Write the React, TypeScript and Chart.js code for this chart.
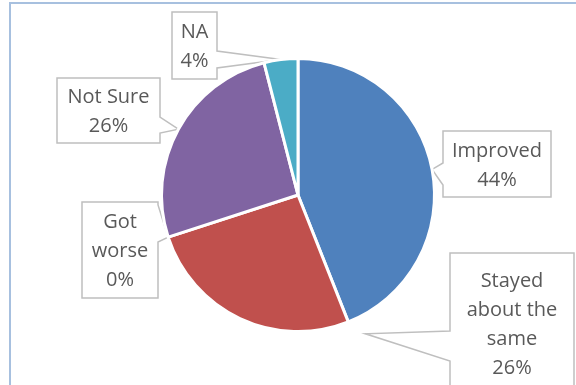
import React, { useEffect, useRef } from "react";
import { Chart, registerables } from "chart.js";

Chart.register(...registerables);

const categories = ["Improved", "Stayed about the same", "Got worse", "Not Sure", "NA"];
const percents = [44, 26, 0, 26, 4];
const sliceColors = ["#4F81BD", "#C0504D", "#9BBB59", "#8064A2", "#4BACC6"];
// label text lines for each category (wrapped as in the reference)
const labelLines = [
  ["Improved", "44%"],
  ["Stayed", "about the", "same", "26%"],
  ["Got", "worse", "0%"],
  ["Not Sure", "26%"],
  ["NA", "4%"],
];

// callout layout: box rect, wedge side and wedge base (y), tip placement relative to arc
const callouts = [
  { x: 443, y: 131, w: 108, h: 66, side: "left", b1: 163, b2: 185, angleShift: 0, rf: 1.0 },
  { x: 450, y: 253, w: 124, h: 140, side: "left", b1: 331, b2: 361, angleShift: -0.075, rf: 1.13, useStart: true },
  { x: 82, y: 202, w: 76, h: 96, side: "right", b1: 205, b2: 242, angleShift: 0, rf: 1.0 },
  { x: 57, y: 78, w: 103, h: 65, side: "right", b1: 117, b2: 133, angleShift: 0, rf: 1.0 },
  { x: 172, y: 12, w: 45, h: 67, side: "right", b1: 51, b2: 68, angleShift: 0, rf: 1.0 },
];

const FONT = '"Open Sans", "Noto Sans", sans-serif';

const calloutPlugin = {
  id: "callouts",
  beforeDatasetsDraw(chart: any) {
    const ctx = chart.ctx;
    ctx.save();
    // chart area outer border
    ctx.strokeStyle = "#A7C0DF";
    ctx.lineWidth = 2;
    ctx.beginPath();
    ctx.moveTo(10, 400);
    ctx.lineTo(10, 3);
    ctx.lineTo(600, 3);
    ctx.stroke();

    const meta = chart.getDatasetMeta(0);
    meta.data.forEach((arc: any, i: number) => {
      const c = callouts[i];
      if (!c) return;
      const p = arc.getProps(["x", "y", "startAngle", "endAngle", "outerRadius"], true);
      const base = c.useStart ? p.startAngle : (p.startAngle + p.endAngle) / 2;
      const ang = base + c.angleShift;
      const r = p.outerRadius * c.rf;
      const tx = p.x + Math.cos(ang) * r;
      const ty = p.y + Math.sin(ang) * r;
      const L = c.x, T = c.y, R = c.x + c.w, B = c.y + c.h;
      ctx.beginPath();
      if (c.side === "right") {
        ctx.moveTo(L, T);
        ctx.lineTo(R, T);
        ctx.lineTo(R, c.b1);
        ctx.lineTo(tx, ty);
        ctx.lineTo(R, c.b2);
        ctx.lineTo(R, B);
        ctx.lineTo(L, B);
      } else {
        ctx.moveTo(L, T);
        ctx.lineTo(R, T);
        ctx.lineTo(R, B);
        ctx.lineTo(L, B);
        ctx.lineTo(L, c.b2);
        ctx.lineTo(tx, ty);
        ctx.lineTo(L, c.b1);
      }
      ctx.closePath();
      ctx.fillStyle = "#FFFFFF";
      ctx.fill();
      ctx.strokeStyle = "#BFBFBF";
      ctx.lineWidth = 1.5;
      ctx.lineJoin = "miter";
      ctx.stroke();

      const lines = labelLines[i];
      const lh = 29;
      const cx = L + c.w / 2;
      const cy = T + c.h / 2 + 1.5;
      ctx.fillStyle = "#595959";
      ctx.font = `20px ${FONT}`;
      ctx.textAlign = "center";
      ctx.textBaseline = "middle";
      lines.forEach((ln, k) => {
        const yy = cy + (k - (lines.length - 1) / 2) * lh;
        ctx.fillText(ln, cx, yy);
      });
    });
    ctx.restore();
  },
};

export default function App() {
  const ref = useRef<HTMLCanvasElement | null>(null);
  useEffect(() => {
    if (!ref.current) return;
    const chart = new Chart(ref.current, {
      type: "pie",
      data: {
        labels: categories,
        datasets: [
          {
            data: percents,
            backgroundColor: sliceColors,
            borderColor: "#FFFFFF",
            borderWidth: 3,
            hoverOffset: 0,
            offset: 0,
          },
        ],
      },
      options: {
        responsive: false,
        animation: false,
        events: [],
        layout: { padding: { left: 160, right: 140, top: 57, bottom: 52 } },
        plugins: {
          legend: { display: false },
          tooltip: { enabled: false },
          title: { display: false },
        },
      },
      plugins: [calloutPlugin],
    });
    return () => chart.destroy();
  }, []);
  return (
    <div style={{ position: "absolute", left: 0, top: 0, width: 576, height: 385, background: "#FFFFFF" }}>
      <canvas ref={ref} width={576} height={385} style={{ display: "block", width: 576, height: 385 }} />
    </div>
  );
}
